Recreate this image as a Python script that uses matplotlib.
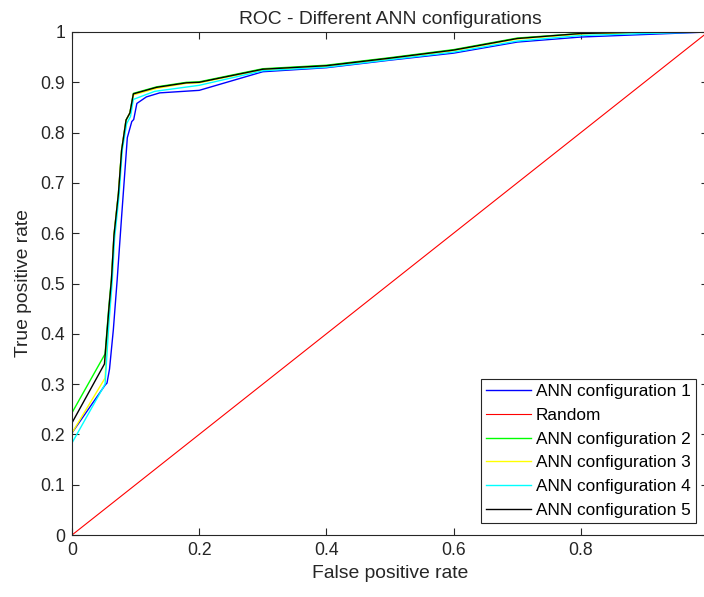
import numpy as np
import matplotlib
matplotlib.use('Agg')
from matplotlib import pyplot as plt

plt.rcParams['font.family'] = ['Liberation Sans', 'DejaVu Sans']

# ROC points (false positive rate, true positive rate)
fpr1 = [0, 0.052, 0.055, 0.059, 0.065, 0.071, 0.078, 0.087, 0.094, 0.097, 0.102, 0.117, 0.138, 0.2, 0.3, 0.4, 0.5, 0.6, 0.7, 0.8, 0.9, 1.0]
tpr1 = [0.203, 0.298, 0.302, 0.330, 0.408, 0.507, 0.633, 0.790, 0.822, 0.826, 0.858, 0.871, 0.879, 0.884, 0.921, 0.929, 0.944, 0.958, 0.980, 0.990, 0.995, 1.0]

fpr_rand = [0, 1]
tpr_rand = [0, 1]

fpr2 = [0, 0.052, 0.058, 0.062, 0.066, 0.073, 0.078, 0.085, 0.091, 0.0965, 0.133, 0.18, 0.2, 0.3, 0.4, 0.5, 0.6, 0.7, 0.8, 0.9, 1.0]
tpr2 = [0.243, 0.360, 0.455, 0.510, 0.596, 0.679, 0.765, 0.825, 0.839, 0.878, 0.891, 0.900, 0.901, 0.927, 0.934, 0.949, 0.965, 0.988, 0.997, 1.0, 1.0]

fpr3 = [0, 0.052, 0.058, 0.062, 0.066, 0.073, 0.078, 0.085, 0.091, 0.0965, 0.133, 0.18, 0.2, 0.3, 0.4, 0.5, 0.6, 0.7, 0.8, 0.9, 1.0]
tpr3 = [0.203, 0.312, 0.440, 0.505, 0.596, 0.679, 0.765, 0.825, 0.839, 0.875, 0.888, 0.898, 0.899, 0.925, 0.932, 0.947, 0.963, 0.986, 0.996, 0.999, 1.0]

fpr4 = [0, 0.052, 0.058, 0.063, 0.067, 0.074, 0.079, 0.086, 0.092, 0.0965, 0.13, 0.2, 0.3, 0.4, 0.5, 0.6, 0.7, 0.8, 0.9, 1.0]
tpr4 = [0.183, 0.300, 0.420, 0.500, 0.590, 0.675, 0.765, 0.818, 0.832, 0.866, 0.882, 0.894, 0.923, 0.930, 0.945, 0.960, 0.982, 0.993, 0.997, 1.0]

fpr5 = [0, 0.051, 0.058, 0.062, 0.066, 0.073, 0.078, 0.085, 0.091, 0.0965, 0.133, 0.18, 0.2, 0.3, 0.4, 0.5, 0.6, 0.7, 0.8, 0.9, 1.0]
tpr5 = [0.223, 0.340, 0.450, 0.507, 0.596, 0.679, 0.765, 0.825, 0.839, 0.877, 0.890, 0.899, 0.900, 0.926, 0.933, 0.948, 0.964, 0.987, 0.997, 1.0, 1.0]

labels = ['ANN configuration 1', 'Random', 'ANN configuration 2',
          'ANN configuration 3', 'ANN configuration 4', 'ANN configuration 5']
xticks = [0, 0.2, 0.4, 0.6, 0.8]
yticks = [0, 0.1, 0.2, 0.3, 0.4, 0.5, 0.6, 0.7, 0.8, 0.9, 1]

dark = '#262626'

fig = plt.figure(figsize=(7.04, 5.97), dpi=100)
ax = fig.add_axes([72 / 704, 62 / 597, 636 / 704, 503 / 597])

ax.plot(fpr1, tpr1, color='#0000ff', lw=1.0, label=labels[0])
ax.plot(fpr_rand, tpr_rand, color='#ff0000', lw=0.8, label=labels[1])
ax.plot(fpr2, tpr2, color='#00ff00', lw=1.0, label=labels[2])
ax.plot(fpr3, tpr3, color='#ffff00', lw=1.0, label=labels[3])
ax.plot(fpr4, tpr4, color='#00ffff', lw=1.0, label=labels[4])
ax.plot(fpr5, tpr5, color='#000000', lw=1.0, label=labels[5])

ax.set_xlim(0, 1)
ax.set_ylim(0, 1)
ax.set_xticks(xticks)
ax.set_yticks(yticks)
ax.set_xticklabels(['%g' % t for t in xticks])
ax.set_yticklabels(['%g' % t for t in yticks])
ax.tick_params(direction='in', top=True, right=True, length=5, width=0.8,
               colors=dark, labelsize=12.7, pad=5)
for s in ax.spines.values():
    s.set_color(dark)
    s.set_linewidth(0.8)

ax.set_xlabel('False positive rate', fontsize=13.9, color=dark, labelpad=4)
ax.set_ylabel('True positive rate', fontsize=13.9, color=dark, labelpad=6)
ax.set_title('ROC - Different ANN configurations', fontsize=13.9, color=dark, pad=6)

leg = ax.legend(loc='lower right', fontsize=12.4, fancybox=False, framealpha=1,
                edgecolor=dark, handlelength=2.6, handletextpad=0.3,
                labelspacing=0.5, borderpad=0.3, borderaxespad=0.7)
leg.get_frame().set_linewidth(0.8)

fig.savefig('out.png', dpi=100)
